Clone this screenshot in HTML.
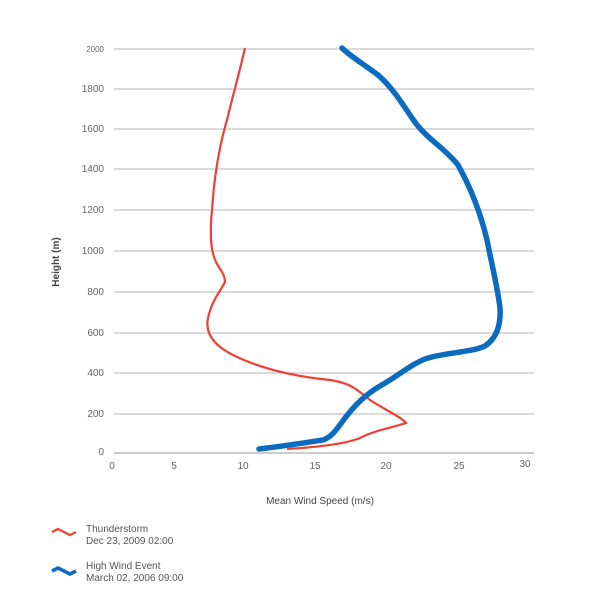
<!DOCTYPE html>
<html><head><meta charset="utf-8"><style>
html,body{margin:0;padding:0;background:#fff;}
svg{display:block;font-family:"Liberation Sans",sans-serif;}
</style></head><body>
<svg width="600" height="600" viewBox="0 0 600 600">
<g stroke="#b5b5b5" stroke-width="1">
<line x1="114" y1="49" x2="534" y2="49"/>
<line x1="114" y1="89" x2="534" y2="89"/>
<line x1="114" y1="129" x2="534" y2="129"/>
<line x1="114" y1="169" x2="534" y2="169"/>
<line x1="114" y1="210" x2="534" y2="210"/>
<line x1="114" y1="251" x2="534" y2="251"/>
<line x1="114" y1="292" x2="534" y2="292"/>
<line x1="114" y1="333" x2="534" y2="333"/>
<line x1="114" y1="373" x2="534" y2="373"/>
<line x1="114" y1="414" x2="534" y2="414"/>
<line x1="114" y1="453" x2="534" y2="453" stroke="#999"/>
</g>
<g fill="#666" font-size="10" text-anchor="end">
<text x="104" y="52" font-size="8">2000</text>
<text x="104" y="92">1800</text>
<text x="104" y="132">1600</text>
<text x="104" y="172">1400</text>
<text x="104" y="213">1200</text>
<text x="104" y="254">1000</text>
<text x="104" y="295">800</text>
<text x="104" y="336">600</text>
<text x="104" y="376">400</text>
<text x="104" y="417">200</text>
<text x="104" y="455">0</text>
</g>
<g fill="#666" font-size="10" text-anchor="middle">
<text x="112" y="469">0</text>
<text x="174" y="469">5</text>
<text x="243" y="469">10</text>
<text x="315" y="469">15</text>
<text x="386" y="469">20</text>
<text x="459" y="469">25</text>
<text x="525" y="467">30</text>
</g>
<text x="320" y="504" font-size="10" fill="#444" text-anchor="middle">Mean Wind Speed (m/s)</text>
<text transform="translate(59,262) rotate(-90)" font-size="10" font-weight="bold" fill="#444" text-anchor="middle">Height (m)</text>
<path d="M287,449 C320,447 345,444 360,438 C375,430 395,427 406,423 C400,416 385,410 370,400 C355,388 350,383 330,380 C290,376 260,368 235,356 C212,345 205,332 208,318 C212,300 220,292 225,282 C225,274 220,270 216,262 C210,250 210,230 212,210 C214,180 218,150 227,120 C233,95 240,70 245,48" fill="none" stroke="#ee4033" stroke-width="2.2"/>
<path d="M259,449 C285,446 310,442 323,440 C332,437 336,430 345,418 C355,405 365,395 380,386 C398,376 410,365 425,359 C445,352 470,353 485,346 C497,338 501,325 500,308 C498,290 493,270 487,240 C481,215 472,190 458,165 C445,148 425,138 412,118 C400,100 390,85 378,75 C362,63 350,56 342,48" fill="none" stroke="#0b6cbf" stroke-width="5.5" stroke-linecap="round"/>
<path d="M52,532 L58,529 L64,532 L70,535 L76,532" fill="none" stroke="#ee4033" stroke-width="2.2"/>
<text x="86" y="532" font-size="10" fill="#555">Thunderstorm</text>
<text x="86" y="544" font-size="10" fill="#555">Dec 23, 2009 02:00</text>
<path d="M52,571 L58,568 L64,571 L70,574 L76,571" fill="none" stroke="#0b6cbf" stroke-width="3.5"/>
<text x="86" y="569" font-size="10" fill="#555">High Wind Event</text>
<text x="86" y="581" font-size="10" fill="#555">March 02, 2006 09:00</text>
</svg>
</body></html>
